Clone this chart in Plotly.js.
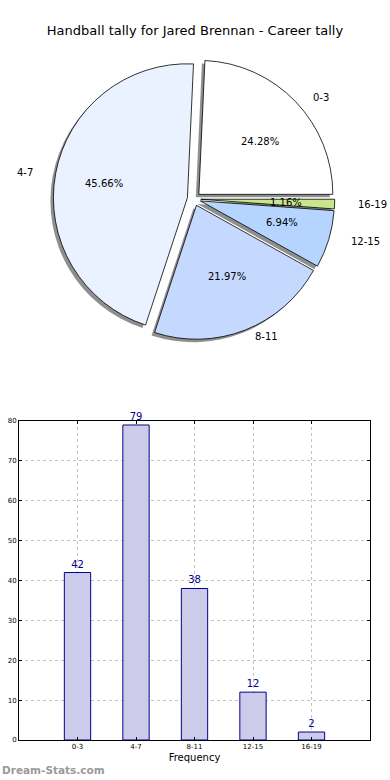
<!DOCTYPE html>
<html><head><meta charset="utf-8">
<script src="https://cdn.plot.ly/plotly-3.0.1.min.js"></script>
<style>html,body{margin:0;padding:0;background:#fff}#chart{width:390px;height:780px}</style>
</head><body><div id="chart"></div>
<script>
const categories = ['0-3', '4-7', '8-11', '12-15', '16-19'];
const counts = [42, 79, 38, 12, 2];
const sliceColors = ['#ffffff', '#eaf1ff', '#c5d9ff', '#b5d5ff', '#c8e68c'];
const yTickValues = [0, 10, 20, 30, 40, 50, 60, 70, 80];

const W = 390, H = 780;
const cx = 194, cy = 199, R = 134, PULL = 0.05;
const RX = 141, RY = 128; // text placement radii
const half = R * (1 + PULL);
function dom(cxp, cyp) {
  return {x: [(cxp - half) / W, (cxp + half) / W], y: [1 - (cyp + half) / H, 1 - (cyp - half) / H]};
}
const font = 'DejaVu Sans, Verdana, sans-serif';
const total = counts.reduce((a, b) => a + b, 0);
// first slice starts at 3 o'clock and runs counterclockwise (Plotly's rotation marks the boundary after slice 0)
const rotation = 90 - counts[0] / total * 360;

const shadow = {
  type: 'pie', labels: categories, values: counts, sort: false,
  direction: 'counterclockwise', rotation: rotation,
  pull: counts.map(() => PULL),
  marker: {colors: counts.map(() => '#8f8f8f'), line: {width: 0}},
  textinfo: 'none', hoverinfo: 'skip', showlegend: false,
  domain: dom(cx - 3, cy + 3)
};
const pie = {
  type: 'pie', labels: categories, values: counts, sort: false,
  direction: 'counterclockwise', rotation: rotation,
  pull: counts.map(() => PULL),
  marker: {colors: sliceColors, line: {color: '#000000', width: 0.8}},
  textinfo: 'none', hoverinfo: 'label+percent', showlegend: false,
  domain: dom(cx, cy)
};
const bars = {
  type: 'bar', x: categories, y: counts, width: 0.45,
  marker: {color: '#ccccea', line: {color: '#00008b', width: 1}},
  text: counts.map(String), textposition: 'outside', constraintext: 'none',
  textfont: {color: '#00008b', size: 10, family: font},
  cliponaxis: false, hoverinfo: 'x+y', xaxis: 'x', yaxis: 'y', showlegend: false
};

const annotations = [];
let start = 0;
counts.forEach((v, i) => {
  const span = v / total * 360;
  const mid = (start + span / 2) * Math.PI / 180;
  start += span;
  const c = Math.cos(mid), s = Math.sin(mid);
  const pctX = cx + (PULL + 0.6) * RX * c, pctY = cy - (PULL + 0.6) * RY * s;
  const labX = cx + (PULL + 1.1) * RX * c, labY = cy - (PULL + 1.1) * RY * s;
  annotations.push({xref: 'paper', yref: 'paper', x: pctX / W, y: 1 - pctY / H,
    text: (v / total * 100).toFixed(2) + '%', showarrow: false, xanchor: 'center', yanchor: 'middle',
    font: {family: font, size: 10, color: '#000'}});
  annotations.push({xref: 'paper', yref: 'paper', x: labX / W, y: 1 - labY / H,
    text: categories[i], showarrow: false, xanchor: c > 0 ? 'left' : 'right', yanchor: 'middle',
    font: {family: font, size: 10, color: '#000'}});
});
annotations.push({xref: 'paper', yref: 'paper', x: 0, y: 1 - 770 / H, xanchor: 'left', yanchor: 'middle',
  text: '<b>Dream-Stats.com</b>', showarrow: false, font: {family: font, size: 10.5, color: '#999999'}});

const axisCommon = {
  showline: true, mirror: 'allticks', linecolor: '#000', linewidth: 1,
  showgrid: true, gridcolor: '#c4c4c4', griddash: 'dot', gridwidth: 1,
  ticks: 'inside', ticklen: 3, tickcolor: '#000', zeroline: false,
  tickfont: {family: font, size: 7, color: '#000'}
};

const layout = {
  width: W, height: H, margin: {l: 0, r: 0, t: 0, b: 0},
  paper_bgcolor: '#fff', plot_bgcolor: '#fff', showlegend: false,
  title: {text: 'Handball tally for Jared Brennan - Career tally', x: 0.5, xanchor: 'center',
    y: 1 - 30 / H, yanchor: 'middle', font: {family: font, size: 13, color: '#000'}},
  xaxis: Object.assign({}, axisCommon, {domain: [19 / W, 370 / W], anchor: 'y', range: [-1, 5],
    type: 'category', title: {text: 'Frequency', standoff: 3, font: {family: font, size: 10, color: '#000'}}}),
  yaxis: Object.assign({}, axisCommon, {domain: [40 / H, 359 / H], anchor: 'x', range: [0, 80],
    tickvals: yTickValues, ticktext: yTickValues.map(String)}),
  annotations: annotations
};

Plotly.newPlot('chart', [shadow, pie, bars], layout, {displayModeBar: false, staticPlot: true});
</script></body></html>
